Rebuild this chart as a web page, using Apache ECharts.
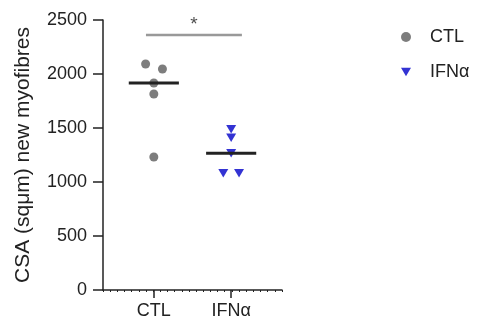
<!DOCTYPE html>
<html><head><meta charset="utf-8">
<script src="https://cdn.jsdelivr.net/npm/echarts@6/dist/echarts.min.js"></script>
<style>html,body{margin:0;padding:0;background:#fff}#c{width:485px;height:322px}</style>
</head><body><div id="c"></div>
<script>
// Data
const categories = ['CTL', 'IFNα'];
const categoryPos = [7.1, 17.9];
const ctlValues = [2093, 2046, 1917, 1815, 1231];
const ctlJitter = [-1.15, 1.2, 0, 0, 0];
const ifnValues = [1488, 1410, 1266, 1080, 1080];
const ifnJitter = [0, 0, 0, -1.1, 1.1];
const yTicks = [0, 500, 1000, 1500, 2000, 2500];
const sigBar = { from: 6.0, to: 19.4, y: 2360, label: '*' };

function median(a){const s=[...a].sort((x,y)=>x-y);const n=s.length;return n%2?s[(n-1)/2]:(s[n/2-1]+s[n/2])/2;}
const HALF = 3.5;
const tri = 'path://M0,0 L10,0 L5,8.5 Z';
const FONT = 'Liberation Sans';

const chart = echarts.init(document.getElementById('c'), null, {renderer:'canvas'});
const ctlMed = median(ctlValues), ifnMed = median(ifnValues);
chart.setOption({
  animation:false,
  textStyle:{fontFamily:FONT},
  grid:{left:103, top:20, width:179, height:270},
  legend:{
    orient:'vertical', left:396, top:23, itemWidth:10, itemHeight:10, itemGap:17,
    textStyle:{fontFamily:FONT, fontSize:18, color:'#222', padding:[0,0,0,14]},
    data:[{name:categories[0], icon:'circle'},{name:categories[1], icon:tri}]
  },
  xAxis:[{
    type:'value', min:0, max:25, interval:1,
    axisLine:{show:true, lineStyle:{color:'#222', width:1.5}},
    axisTick:{show:true, length:2, lineStyle:{color:'#222', width:1}},
    axisLabel:{show:false}, splitLine:{show:false}
  },{
    type:'value', min:0, max:25, position:'bottom',
    axisLine:{show:false},
    axisTick:{show:true, length:8, customValues:categoryPos, lineStyle:{color:'#222', width:1.5}},
    axisLabel:{show:true, customValues:categoryPos, margin:12, fontSize:18, color:'#222', fontFamily:FONT,
      formatter:(v)=>{const i=categoryPos.findIndex(p=>Math.abs(p-v)<1e-6);return i>=0?categories[i]:'';}},
    splitLine:{show:false}
  }],
  yAxis:{
    type:'value', min:yTicks[0], max:yTicks[yTicks.length-1], interval:yTicks[1]-yTicks[0],
    name:'CSA (sqμm) new myofibres', nameLocation:'middle', nameGap:69, nameRotate:90,
    nameTextStyle:{fontSize:21, color:'#222', fontFamily:FONT},
    axisLine:{show:true, lineStyle:{color:'#222', width:1.5}},
    axisTick:{show:true, length:10, lineStyle:{color:'#222', width:1.5}},
    axisLabel:{fontSize:18, color:'#222', margin:16, fontFamily:FONT, formatter:(v)=>String(v)},
    splitLine:{show:false}
  },
  series:[
    {name:categories[0], type:'scatter', symbol:'circle', symbolSize:9, itemStyle:{color:'#5c5c5c'}, z:3,
      data:ctlValues.map((v,i)=>[categoryPos[0]+ctlJitter[i], v])},
    {name:categories[1], type:'scatter', symbol:tri, symbolSize:[10,8.5], itemStyle:{color:'#0000c8'}, z:3,
      data:ifnValues.map((v,i)=>[categoryPos[1]+ifnJitter[i], v])},
    {type:'line', symbol:'none', lineStyle:{color:'#222', width:3}, z:4, silent:true,
      data:[[categoryPos[0]-HALF, ctlMed],[categoryPos[0]+HALF, ctlMed]]},
    {type:'line', symbol:'none', lineStyle:{color:'#222', width:3}, z:4, silent:true,
      data:[[categoryPos[1]-HALF, ifnMed],[categoryPos[1]+HALF, ifnMed]]},
    {type:'line', symbol:'none', lineStyle:{color:'#999', width:2.5}, z:2, silent:true,
      data:[[sigBar.from, sigBar.y],[sigBar.to, sigBar.y]]},
    {type:'scatter', symbolSize:0, clip:false, silent:true,
      label:{show:true, position:'top', distance:1, formatter:sigBar.label, fontSize:19, color:'#222', fontFamily:FONT},
      data:[[(sigBar.from+sigBar.to)/2, sigBar.y]]}
  ]
});
</script></body></html>
